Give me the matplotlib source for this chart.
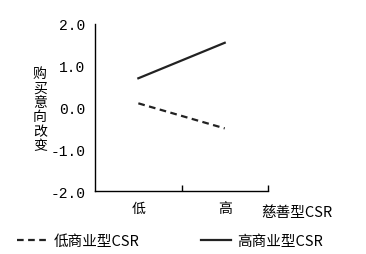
import matplotlib
matplotlib.use('Agg')
from matplotlib import pyplot as plt

plt.rcParams['font.family'] = ['Noto Sans CJK SC', 'DejaVu Sans']

categories = ['低', '高']
low_commercial = [0.1, -0.5]
high_commercial = [0.7, 1.55]
y_ticks = [-2.0, -1.0, 0.0, 1.0, 2.0]

fig = plt.figure(figsize=(3.66, 2.55), dpi=100)
ax = fig.add_axes([0.26, 0.247, 0.472, 0.655])

x = list(range(len(categories)))
ax.plot(x, low_commercial, color='#222222', linestyle=(0, (3, 2)), linewidth=1.6, label='低商业型CSR')
ax.plot(x, high_commercial, color='#222222', linestyle='solid', linewidth=1.6, label='高商业型CSR')

ax.set_xlim(-0.5, 1.5)
ax.set_ylim(-2.0, 2.0)
ax.spines['top'].set_visible(False)
ax.spines['right'].set_visible(False)
ax.spines['left'].set_linewidth(1.0)
ax.spines['bottom'].set_linewidth(1.0)

ax.set_yticks(y_ticks)
ax.set_yticklabels(['%.1f' % v for v in y_ticks], family=['Liberation Mono'], fontsize=10.5)
ax.tick_params(axis='y', length=0, pad=7)

ax.set_xticks(x)
ax.set_xticklabels(categories, fontsize=10)
ax.tick_params(axis='x', length=0, pad=7)
ax.set_xticks([0.5, 1.5], minor=True)
ax.tick_params(axis='x', which='minor', direction='in', length=4, width=1.0)

ax.text(-0.32, 0.49, '购\n买\n意\n向\n改\n变', transform=ax.transAxes, fontsize=10,
        ha='center', va='center', linespacing=1.05)
fig.text(0.81, 0.165, '慈善型CSR', fontsize=10.5, ha='center', va='center')

ax.legend(loc='center', bbox_to_anchor=(0.465, 0.05), bbox_transform=fig.transFigure,
          ncol=2, frameon=False, fontsize=10.5, handlelength=2.1, columnspacing=4.2,
          handletextpad=0.4)

fig.savefig('out.png', dpi=100)
